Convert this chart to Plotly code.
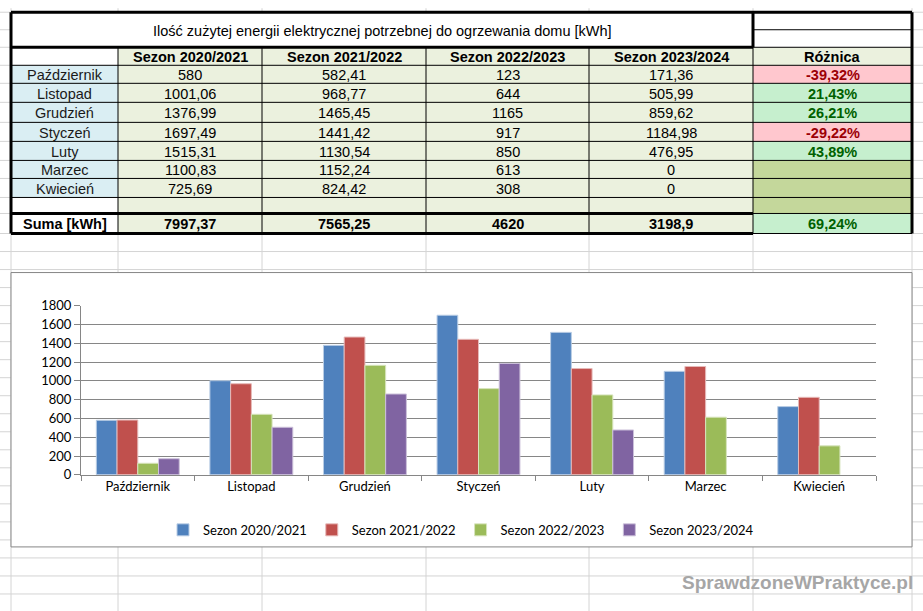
import plotly.graph_objects as go

# ---------------- data ----------------
months = ["Październik", "Listopad", "Grudzień", "Styczeń", "Luty", "Marzec", "Kwiecień"]
seasons = ["Sezon 2020/2021", "Sezon 2021/2022", "Sezon 2022/2023", "Sezon 2023/2024"]
s2020_2021 = [580, 1001.06, 1376.99, 1697.49, 1515.31, 1100.83, 725.69]
s2021_2022 = [582.41, 968.77, 1465.45, 1441.42, 1130.54, 1152.24, 824.42]
s2022_2023 = [123, 644, 1165, 917, 850, 613, 308]
s2023_2024 = [171.36, 505.99, 859.62, 1184.98, 476.95, 0, 0]
sums = [7997.37, 7565.25, 4620, 3198.9]
roznica = [-39.32, 21.43, 26.21, -29.22, 43.89, None, None]
roznica_suma = 69.24
title_text = "Ilość zużytej energii elektrycznej potrzebnej do ogrzewania domu [kWh]"
header_diff = "Różnica"
sum_label = "Suma [kWh]"
watermark = "SprawdzoneWPraktyce.pl"

series = [s2020_2021, s2021_2022, s2022_2023, s2023_2024]
colors = ["#4F81BD", "#C0504D", "#9BBB59", "#8064A2"]
edge_colors = ["#B9CDE5", "#E6B9B8", "#D7E4BD", "#CCC1DA"]

W, H = 923, 611
SC = 611 / 628      # vertical scale of the captured page
OY = 8              # offset of the plot div inside the page
FH = 620            # figure height
def X(px): return px / W
def F(py): return py / SC - OY
def Y(py): return 1 - F(py) / FH

def pl(v):
    s = f"{v:.2f}".rstrip("0").rstrip(".")
    return s.replace(".", ",")

def pct(v):
    return f"{v:.2f}%".replace(".", ",")

shapes = []
annotations = []

def line(x0, y0, x1, y1, color="black", width=1):
    shapes.append(dict(type="line", xref="paper", yref="paper", x0=X(x0), y0=Y(y0), x1=X(x1), y1=Y(y1),
                       line=dict(color=color, width=width), layer="below"))

def rect(x0, y0, x1, y1, fill, lc=None, lw=0):
    shapes.append(dict(type="rect", xref="paper", yref="paper", x0=X(x0), y0=Y(y0), x1=X(x1), y1=Y(y1),
                       fillcolor=fill, line=dict(color=lc or fill, width=lw), layer="below"))

def text(cx, cy, t, size=14.5, color="black", bold=False, family="Liberation Sans, Arial"):
    annotations.append(dict(xref="paper", yref="paper", x=X(cx), y=Y(cy), text=(f"<b>{t}</b>" if bold else t),
                            showarrow=False, xanchor="center", yanchor="middle",
                            font=dict(family=family, size=size, color=color)))

# ---------------- spreadsheet background grid ----------------
grid_c = "#D4D4D4"
col_x = [11, 118, 262, 426, 589, 753, 912]
for cx in col_x:
    line(cx, 8, cx, H, grid_c, 1)
row_y = [12, 29.5, 47, 65, 83, 102, 122, 141, 160, 178, 197, 213, 233]
for ry in row_y:
    line(0, ry, W, ry, grid_c, 1)
ry = 251
while ry < H:
    line(0, ry, W, ry, grid_c, 1)
    ry += 18

# ---------------- table ----------------
rect(11, 12, 912, 47, "white")
rect(11, 47, 118, 65, "white")
rect(118, 47, 912, 65, "#EBF1DE")
month_rows = row_y[3:11]  # 65..197
for i in range(7):
    y0, y1 = month_rows[i], month_rows[i + 1]
    rect(11, y0, 118, y1, "#DAEEF3")
    rect(118, y0, 753, y1, "#EBF1DE")
    v = roznica[i]
    if v is None:
        fill = "#C4D79B"
    elif v < 0:
        fill = "#FFC7CE"
    else:
        fill = "#C6EFCE"
    rect(753, y0, 912, y1, fill)
rect(11, 197, 118, 213, "white")
rect(118, 197, 753, 213, "#EBF1DE")
rect(753, 197, 912, 213, "#C4D79B")
rect(11, 213, 118, 233, "white")
rect(118, 213, 753, 233, "#EBF1DE")
rect(753, 213, 912, 233, "#C6EFCE")

for ry in [65, 83, 102, 122, 141, 160, 178, 197]:
    line(11, ry, 912, ry)
line(753, 29.5, 912, 29.5)
line(753, 47, 912, 47)
line(753, 213, 912, 213)
line(753, 233, 912, 233)
for cx in [118, 262, 426, 589, 753]:
    line(cx, 47, cx, 233)
TW = 3
line(11, 12, 912, 12, width=TW)
line(11, 12, 11, 233, width=TW)
line(912, 12, 912, 233, width=TW)
line(11, 233, 753, 233, width=TW)
line(11, 47, 753, 47, width=TW)
line(753, 12, 753, 47, width=TW)
line(11, 213, 753, 213, width=TW)

text(382, 30.5, title_text)
centers = [(col_x[i] + col_x[i + 1]) / 2 for i in range(6)]
for j, s in enumerate(seasons):
    text(centers[j + 1], 56.5, s, bold=True)
text(centers[5], 56.5, header_diff, bold=True)
for i, m in enumerate(months):
    cy = (month_rows[i] + month_rows[i + 1]) / 2 + 1
    text(centers[0], cy, m, color="#1A1A1A")
    for j in range(4):
        text(centers[j + 1], cy, pl(series[j][i]))
    v = roznica[i]
    if v is not None:
        text(centers[5], cy, pct(v), color=("#9C0006" if v < 0 else "#006100"), bold=True)
text(centers[0], 224, sum_label, bold=True)
for j in range(4):
    text(centers[j + 1], 224, pl(sums[j]), bold=True)
text(centers[5], 224, pct(roznica_suma), color="#006100", bold=True)

# chart frame
rect(11, 272, 912, 546, "white", "#868686", 1)

# watermark
text(797, 582, watermark, size=19, color="#A6A6A6", bold=True)

# ---------------- bars ----------------
fig = go.Figure()
for name, vals, c, ec in zip(seasons, series, colors, edge_colors):
    fig.add_trace(go.Bar(x=months, y=vals, name=name,
                         marker=dict(color=c, line=dict(color=ec, width=[1 if v else 0 for v in vals]))))

chart_font = "Lato, Carlito, Calibri, sans-serif"
fig.update_layout(
    width=W, height=FH, autosize=False,
    margin=dict(l=0, r=0, t=0, b=0),
    paper_bgcolor="white", plot_bgcolor="rgba(0,0,0,0)",
    barmode="group", bargap=0.27, bargroupgap=0,
    shapes=shapes, annotations=annotations,
    font=dict(family=chart_font, size=13, color="black"),
    xaxis=dict(domain=[X(81), X(876)], showline=True, linecolor="#868686", linewidth=1,
               ticks="outside", tickson="boundaries", ticklen=5, tickcolor="#868686",
               showgrid=False, tickfont=dict(family=chart_font, size=13, color="black")),
    yaxis=dict(domain=[Y(474), Y(305)], range=[0, 1800], dtick=200, showline=True,
               linecolor="#868686", linewidth=1, ticks="outside", ticklen=6, tickcolor="#868686",
               gridcolor="#868686", gridwidth=1, zeroline=False,
               tickfont=dict(family=chart_font, size=13, color="black")),
    legend=dict(orientation="h", xanchor="center", yanchor="middle", x=X(461), y=Y(529),
                bgcolor="rgba(0,0,0,0)", font=dict(family=chart_font, size=13, color="black"),
                itemwidth=30, traceorder="normal"),
    showlegend=True,
)

fig.write_html("out.html", config={"displayModeBar": False},
               post_script="document.body.style.margin='0';document.body.style.overflow='hidden';")
